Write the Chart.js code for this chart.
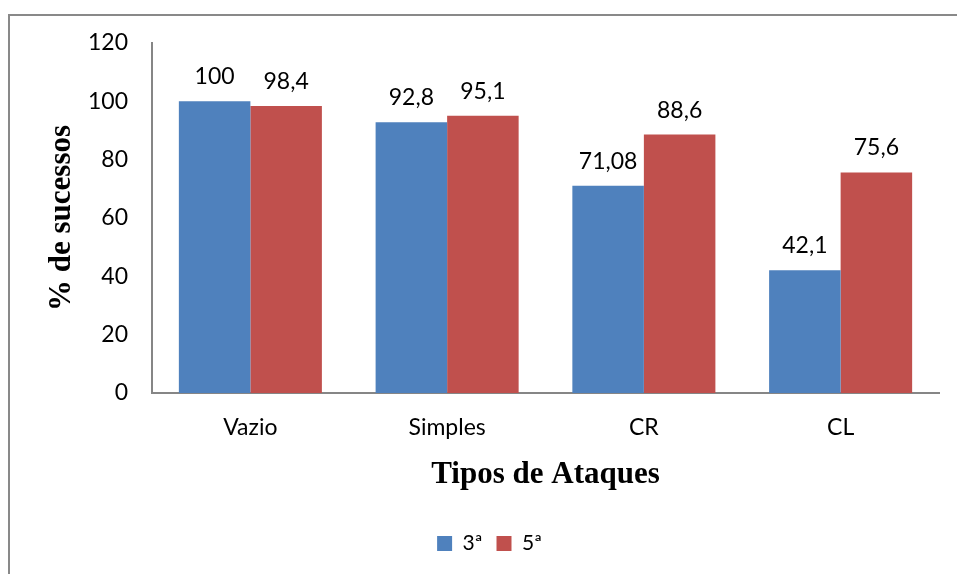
<!DOCTYPE html>
<html>
<head>
<meta charset="utf-8">
<script src="https://cdn.jsdelivr.net/npm/chart.js@4"></script>
<style>
  html, body { margin: 0; padding: 0; background: #fff; overflow: hidden; }
  #wrap { position: relative; width: 957px; height: 574px; }
  #frame { position: absolute; left: 8px; top: 14px; width: 1000px; height: 700px;
           border: 2px solid #898989; box-sizing: border-box; }
  canvas { position: absolute; left: 0; top: 0; }
</style>
</head>
<body>
<div id="wrap">
  <div id="frame"></div>
  <canvas id="myChart" width="957" height="574"></canvas>
</div>
<script>
const categories = ['Vazio', 'Simples', 'CR', 'CL'];
const serie3 = [100, 92.8, 71.08, 42.1];
const serie5 = [98.4, 95.1, 88.6, 75.6];
const yTicks = [0, 20, 40, 60, 80, 100, 120];

const tickFont = { family: 'Lato', size: 23 };
const titleFont = { family: 'Liberation Serif', size: 31, weight: 'bold' };

// draws the value above each bar, with a decimal comma
const valueLabels = {
  id: 'valueLabels',
  afterDatasetsDraw(chart) {
    const ctx = chart.ctx;
    ctx.save();
    ctx.font = '23px Lato';
    ctx.fillStyle = '#000';
    ctx.textAlign = 'center';
    ctx.textBaseline = 'bottom';
    chart.data.datasets.forEach((ds, i) => {
      chart.getDatasetMeta(i).data.forEach((bar, j) => {
        const txt = String(ds.data[j]).replace('.', ',');
        ctx.fillText(txt, bar.x, bar.y - 13);
      });
    });
    ctx.restore();
  }
};

new Chart(document.getElementById('myChart'), {
  type: 'bar',
  data: {
    labels: categories,
    datasets: [
      { label: '3ª', data: serie3, backgroundColor: '#4F81BD' },
      { label: '5ª', data: serie5, backgroundColor: '#C0504D' }
    ]
  },
  options: {
    responsive: false,
    animation: false,
    layout: { padding: { left: 40, right: 18, top: 43, bottom: 10 } },
    datasets: { bar: { categoryPercentage: 0.727, barPercentage: 1 } },
    plugins: {
      tooltip: { enabled: false },
      legend: {
        position: 'bottom',
        labels: { font: { family: 'Lato', size: 21 }, color: '#000', boxWidth: 15, boxHeight: 15, padding: 14 }
      }
    },
    scales: {
      x: {
        grid: { display: false },
        border: { display: true, color: '#868686', width: 2 },
        ticks: { font: tickFont, color: '#000', padding: 13 },
        title: { display: true, text: 'Tipos de Ataques', font: titleFont, color: '#000', padding: { top: 0, bottom: 25 } },
        afterFit(scale) { scale.height = 126; }
      },
      y: {
        min: 0, max: 120,
        grid: { display: false },
        border: { display: true, color: '#868686', width: 2 },
        afterBuildTicks(scale) { scale.ticks = yTicks.map(v => ({ value: v })); },
        ticks: { font: tickFont, color: '#000', padding: 16 },
        title: { display: true, text: '% de sucessos', font: titleFont, color: '#000', padding: { top: 3, bottom: 0 } },
        afterFit(scale) { scale.width = 112; }
      }
    }
  },
  plugins: [valueLabels]
});
</script>
</body>
</html>
